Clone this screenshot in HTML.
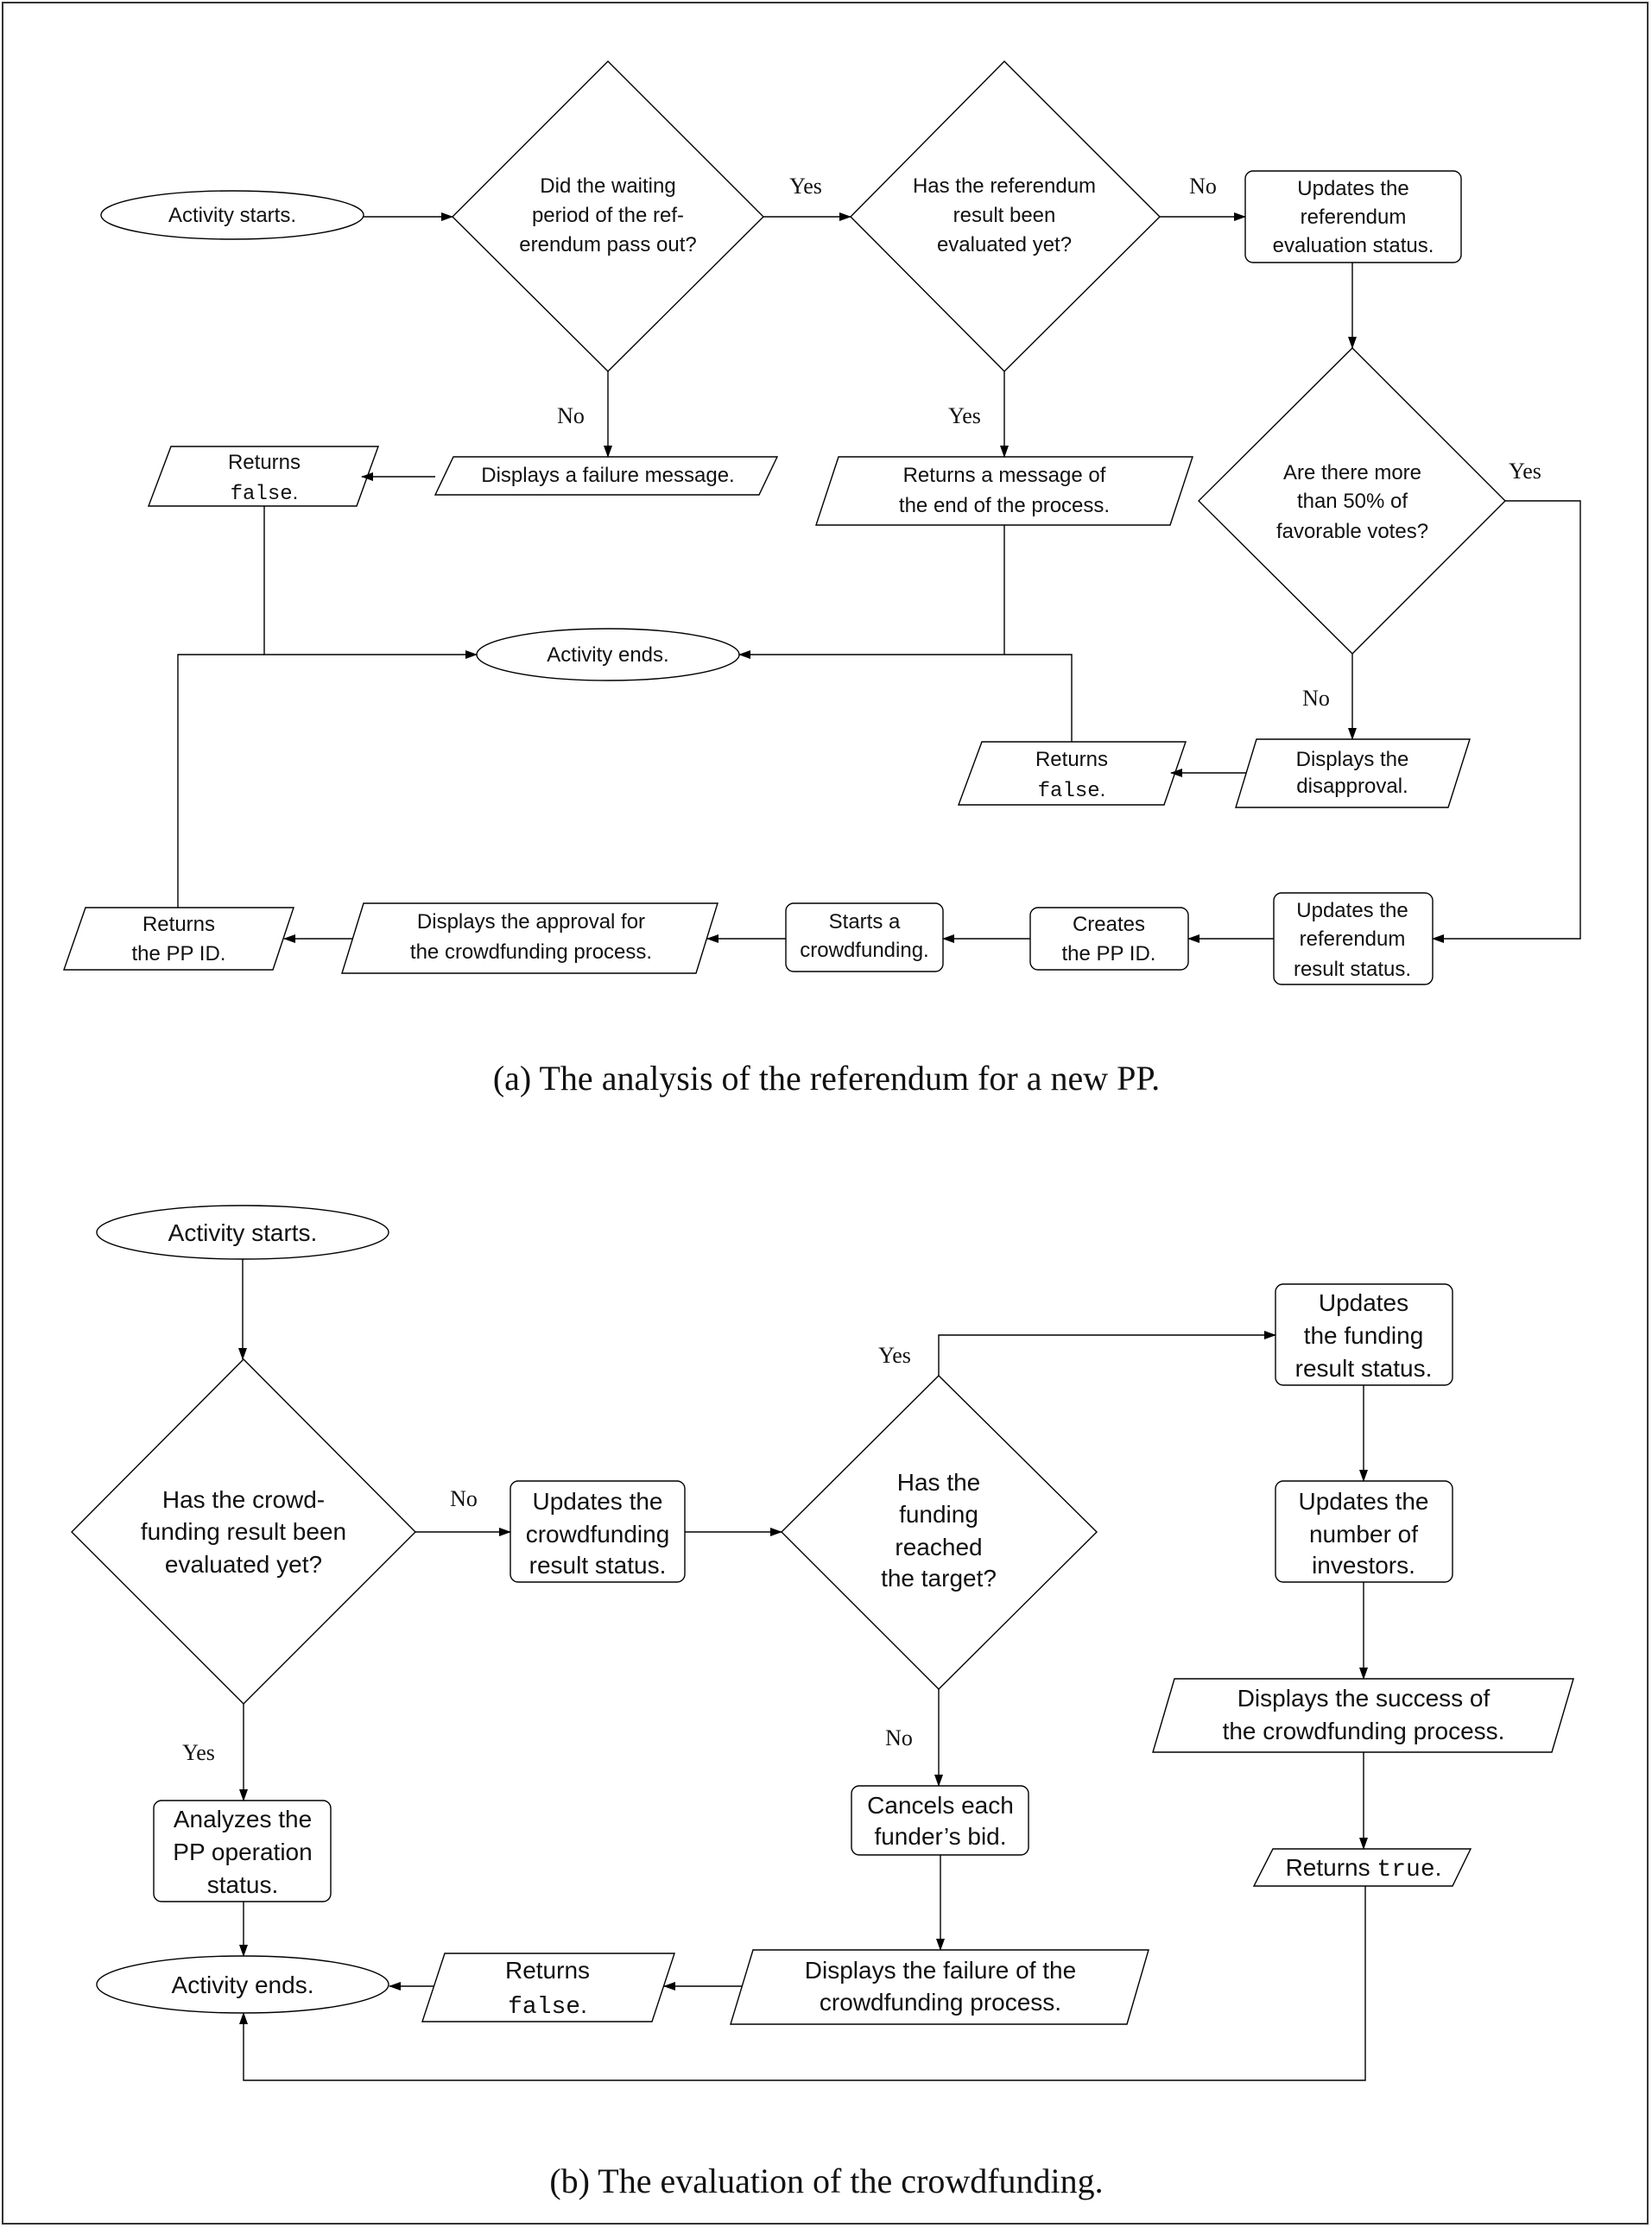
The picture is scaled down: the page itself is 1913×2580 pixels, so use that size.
<!DOCTYPE html>
<html><head><meta charset="utf-8"><style>
html,body{margin:0;padding:0;background:#fff;}
svg{display:block}
text{font-family:"Liberation Sans",sans-serif;fill:#111;}
.a{font-size:24px}
.b{font-size:28px}
.m{font-family:"Liberation Mono",monospace}
.cap{font-family:"Liberation Serif",serif;font-size:40px}
.lbl{font-family:"Liberation Serif",serif;font-size:26px}
</style></head><body>
<svg width="1913" height="2580" viewBox="0 0 1913 2580" xmlns="http://www.w3.org/2000/svg">
<defs><marker id="ar" markerWidth="14" markerHeight="10" refX="13" refY="5" orient="auto" markerUnits="userSpaceOnUse"><path d="M0,0 L14,5 L0,10 z" fill="#000"/></marker></defs>
<rect x="3" y="3" width="1905" height="2572" fill="none" stroke="#333" stroke-width="2"/>
<g fill="none" stroke="#000" stroke-width="1.4">
<ellipse cx="269" cy="249" rx="152" ry="28"/>
<polygon points="704,71 884,251 704,430 524,251"/>
<polygon points="1163,71 1343,251 1163,430 985,251"/>
<rect x="1442" y="198" width="250" height="106" rx="9"/>
<polygon points="1566,403 1743,580 1566,757 1388,580"/>
<polygon points="1455,856 1702,856 1677,935 1431,935"/>
<polygon points="1137,859 1373,859 1348,932 1110,932"/>
<ellipse cx="704" cy="758" rx="152" ry="30"/>
<polygon points="525,529 900,529 879,573 504,573"/>
<polygon points="198,517 438,517 413,586 172,586"/>
<polygon points="971,529 1381,529 1355,608 945,608"/>
<rect x="1475" y="1034" width="184" height="106" rx="9"/>
<rect x="1193" y="1051" width="183" height="72" rx="9"/>
<rect x="910" y="1046" width="182" height="79" rx="9"/>
<polygon points="421,1046 831,1046 806,1127 396,1127"/>
<polygon points="99,1051 340,1051 316,1123 74,1123"/>
<path d="M421,251 H524" marker-end="url(#ar)"/>
<path d="M884,251 H985" marker-end="url(#ar)"/>
<path d="M1343,251 H1442" marker-end="url(#ar)"/>
<path d="M1566,304 V403" marker-end="url(#ar)"/>
<path d="M1743,580 H1830 V1087 H1659" marker-end="url(#ar)"/>
<path d="M1566,757 V856" marker-end="url(#ar)"/>
<path d="M1443,895 H1356" marker-end="url(#ar)"/>
<path d="M1241,859 V758 H856" marker-end="url(#ar)"/>
<path d="M1163,608 V758"/>
<path d="M704,430 V529" marker-end="url(#ar)"/>
<path d="M1163,430 V529" marker-end="url(#ar)"/>
<path d="M504,552 H419" marker-end="url(#ar)"/>
<path d="M306,586 V758 H552" marker-end="url(#ar)"/>
<path d="M206,1051 V758 H306"/>
<path d="M1475,1087 H1376" marker-end="url(#ar)"/>
<path d="M1193,1087 H1092" marker-end="url(#ar)"/>
<path d="M910,1087 H819" marker-end="url(#ar)"/>
<path d="M408,1087 H329" marker-end="url(#ar)"/>
<ellipse cx="281" cy="1427" rx="169" ry="31"/>
<polygon points="282,1574 481,1774 282,1973 83,1774"/>
<rect x="591" y="1715" width="202" height="117" rx="9"/>
<polygon points="1087,1593 1270,1774 1087,1956 905,1774"/>
<rect x="1477" y="1487" width="205" height="117" rx="9"/>
<rect x="1477" y="1715" width="205" height="117" rx="9"/>
<polygon points="1360,1944 1822,1944 1797,2029 1335,2029"/>
<polygon points="1474,2141 1703,2141 1682,2184 1452,2184"/>
<ellipse cx="281" cy="2298" rx="169" ry="33"/>
<rect x="178" y="2085" width="205" height="117" rx="9"/>
<rect x="986" y="2068" width="205" height="80" rx="9"/>
<polygon points="872,2258 1330,2258 1305,2344 846,2344"/>
<polygon points="515,2262 781,2262 755,2341 489,2341"/>
<path d="M281,1458 V1574" marker-end="url(#ar)"/>
<path d="M481,1774 H591" marker-end="url(#ar)"/>
<path d="M793,1774 H905" marker-end="url(#ar)"/>
<path d="M1087,1593 V1546 H1477" marker-end="url(#ar)"/>
<path d="M1579,1604 V1715" marker-end="url(#ar)"/>
<path d="M1579,1832 V1944" marker-end="url(#ar)"/>
<path d="M1579,2029 V2141" marker-end="url(#ar)"/>
<path d="M1581,2184 V2409 H282 V2331" marker-end="url(#ar)"/>
<path d="M282,1973 V2085" marker-end="url(#ar)"/>
<path d="M282,2202 V2265" marker-end="url(#ar)"/>
<path d="M1087,1956 V2068" marker-end="url(#ar)"/>
<path d="M1089,2148 V2258" marker-end="url(#ar)"/>
<path d="M859,2300 H769" marker-end="url(#ar)"/>
<path d="M502,2300 H451" marker-end="url(#ar)"/>
</g>
<g text-anchor="middle">
<g class="a" transform="translate(0,8)">
<text x="269" y="249">Activity starts.</text>
<text x="704" y="215">Did the waiting</text><text x="704" y="249">period of the ref-</text><text x="704" y="283">erendum pass out?</text>
<text x="1163" y="215">Has the referendum</text><text x="1163" y="249">result been</text><text x="1163" y="283">evaluated yet?</text>
<text x="1567" y="218">Updates the</text><text x="1567" y="251">referendum</text><text x="1567" y="284">evaluation status.</text>
<text x="1566" y="547">Are there more</text><text x="1566" y="580">than 50% of</text><text x="1566" y="615">favorable votes?</text>
<text x="1566" y="879">Displays the</text><text x="1566" y="910">disapproval.</text>
<text x="1241" y="879">Returns</text><text x="1241" y="914"><tspan class="m">false</tspan>.</text>
<text x="704" y="758">Activity ends.</text>
<text x="704" y="550">Displays a failure message.</text>
<text x="306" y="535">Returns</text><text x="306" y="570"><tspan class="m">false</tspan>.</text>
<text x="1163" y="550">Returns a message of</text><text x="1163" y="585">the end of the process.</text>
<text x="1566" y="1054">Updates the</text><text x="1566" y="1087">referendum</text><text x="1566" y="1122">result status.</text>
<text x="1284" y="1070">Creates</text><text x="1284" y="1104">the PP ID.</text>
<text x="1001" y="1067">Starts a</text><text x="1001" y="1100">crowdfunding.</text>
<text x="615" y="1067">Displays the approval for</text><text x="615" y="1102">the crowdfunding process.</text>
<text x="207" y="1070">Returns</text><text x="207" y="1104">the PP ID.</text>
</g>
<g transform="translate(0,9)">
<text class="lbl" x="933" y="215">Yes</text>
<text class="lbl" x="1393" y="215">No</text>
<text class="lbl" x="1766" y="545">Yes</text>
<text class="lbl" x="1524" y="808">No</text>
<text class="lbl" x="661" y="481">No</text>
<text class="lbl" x="1117" y="481">Yes</text>
<text class="lbl" x="537" y="1735">No</text>
<text class="lbl" x="1036" y="1569">Yes</text>
<text class="lbl" x="230" y="2029">Yes</text>
<text class="lbl" x="1041" y="2012">No</text>
</g>
<g transform="translate(0,13)">
<text class="cap" x="957" y="1249">(a) The analysis of the referendum for a new PP.</text>
<text class="cap" x="957" y="2526">(b) The evaluation of the crowdfunding.</text>
</g>
<g class="b" transform="translate(0,10)">
<text x="281" y="1427">Activity starts.</text>
<text x="282" y="1736">Has the crowd-</text><text x="282" y="1773">funding result been</text><text x="282" y="1811">evaluated yet?</text>
<text x="692" y="1738">Updates the</text><text x="692" y="1776">crowdfunding</text><text x="692" y="1812">result status.</text>
<text x="1087" y="1716">Has the</text><text x="1087" y="1753">funding</text><text x="1087" y="1791">reached</text><text x="1087" y="1827">the target?</text>
<text x="1579" y="1508">Updates</text><text x="1579" y="1546">the funding</text><text x="1579" y="1584">result status.</text>
<text x="1579" y="1738">Updates the</text><text x="1579" y="1776">number of</text><text x="1579" y="1812">investors.</text>
<text x="1579" y="1966">Displays the success of</text><text x="1579" y="2004">the crowdfunding process.</text>
<text x="1579" y="2162">Returns <tspan class="m">true</tspan>.</text>
<text x="281" y="2106">Analyzes the</text><text x="281" y="2144">PP operation</text><text x="281" y="2182">status.</text>
<text x="1089" y="2090">Cancels each</text><text x="1089" y="2126">funder’s bid.</text>
<text x="1089" y="2281">Displays the failure of the</text><text x="1089" y="2318">crowdfunding process.</text>
<text x="634" y="2281">Returns</text><text x="634" y="2321"><tspan class="m">false</tspan>.</text>
<text x="281" y="2298">Activity ends.</text>
</g>
</g>
</svg>
</body></html>
